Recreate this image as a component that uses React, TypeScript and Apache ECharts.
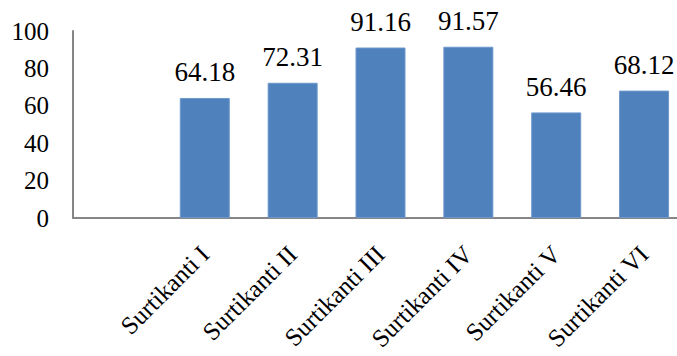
import React, { useEffect, useRef } from "react";
import * as echarts from "echarts";

// Category names; the first slot is intentionally left blank
const categories = ["", "Surtikanti I", "Surtikanti II", "Surtikanti III", "Surtikanti IV", "Surtikanti V", "Surtikanti VI"];
const values: (number | string)[] = ["-", 64.18, 72.31, 91.16, 91.57, 56.46, 68.12];
const yTicks = [0, 20, 40, 60, 80, 100];

const FONT = "Liberation Serif";

export default function App() {
  const ref = useRef<HTMLDivElement>(null);

  useEffect(() => {
    if (!ref.current) return;
    const chart = echarts.init(ref.current, null, { renderer: "svg" });
    chart.setOption({
      animation: false,
      backgroundColor: "#ffffff",
      grid: {
        left: 73,
        right: -11,
        top: 31,
        bottom: 138,
        containLabel: false,
        outerBoundsMode: "none",
      },
      xAxis: {
        type: "category",
        data: categories,
        axisLine: { lineStyle: { color: "#868686", width: 2 } },
        axisTick: { show: false },
        axisLabel: {
          interval: 0,
          rotate: 45,
          margin: 32,
          align: "right",
          verticalAlign: "middle",
          color: "#000",
          fontFamily: FONT,
          fontSize: 25,
        },
      },
      yAxis: {
        type: "value",
        min: yTicks[0],
        max: yTicks[yTicks.length - 1],
        interval: 20,
        axisLine: { show: true, lineStyle: { color: "#868686", width: 2 } },
        axisTick: { show: false },
        splitLine: { show: false },
        axisLabel: {
          margin: 24,
          color: "#000",
          fontFamily: FONT,
          fontSize: 25,
        },
      },
      series: [
        {
          type: "bar",
          data: values,
          barWidth: 50,
          itemStyle: { color: "#4F81BD", borderColor: "#6E97CB", borderWidth: 1 },
          label: {
            show: true,
            position: "top",
            distance: 12,
            color: "#000",
            fontFamily: FONT,
            fontSize: 27,
            formatter: (p: any) => Number(p.value).toFixed(2),
          },
        },
      ],
    });
    return () => chart.dispose();
  }, []);

  return (
    <div
      ref={ref}
      style={{ position: "fixed", left: 0, top: 0, width: 677, height: 356, background: "#fff" }}
    />
  );
}
